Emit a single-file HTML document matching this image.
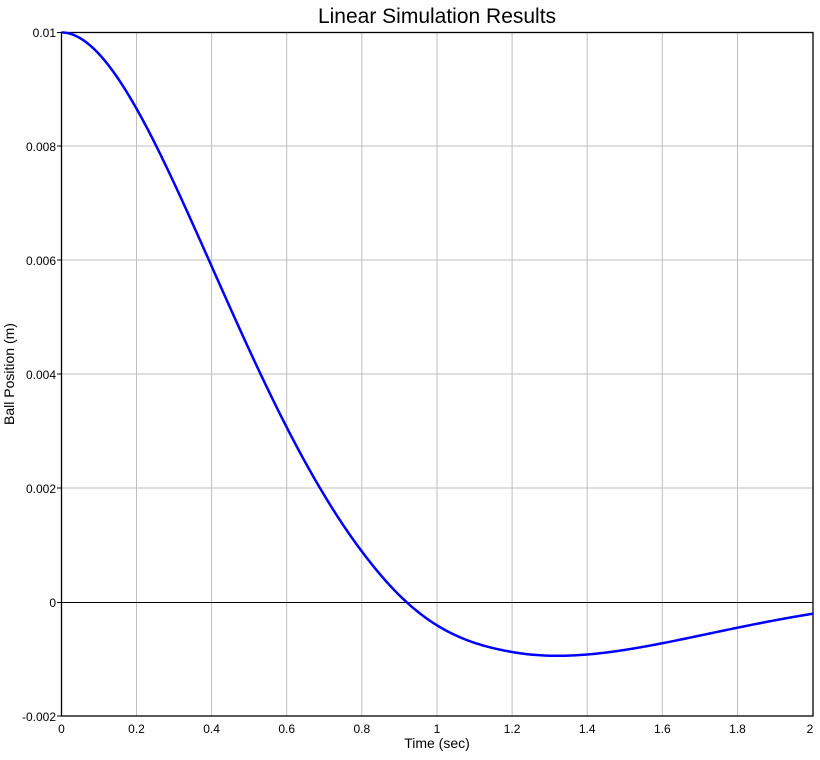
<!DOCTYPE html>
<html><head><meta charset="utf-8"><style>
html,body{margin:0;padding:0;background:#fff;}
text{font-family:"Liberation Sans",Arial,sans-serif;}
</style></head><body>
<svg id="s" width="820" height="755" xmlns="http://www.w3.org/2000/svg">
<rect width="820" height="755" fill="#fff"/>
<text x="437" y="23" font-size="21" text-anchor="middle">Linear Simulation Results</text>
<g stroke="#bfbfbf" stroke-width="1">
<line x1="136.5" y1="32" x2="136.5" y2="716"/>
<line x1="211.6" y1="32" x2="211.6" y2="716"/>
<line x1="286.7" y1="32" x2="286.7" y2="716"/>
<line x1="361.8" y1="32" x2="361.8" y2="716"/>
<line x1="437" y1="32" x2="437" y2="716"/>
<line x1="512.1" y1="32" x2="512.1" y2="716"/>
<line x1="587.2" y1="32" x2="587.2" y2="716"/>
<line x1="662.3" y1="32" x2="662.3" y2="716"/>
<line x1="737.5" y1="32" x2="737.5" y2="716"/>
<line x1="61.5" y1="146" x2="813" y2="146"/>
<line x1="61.5" y1="260" x2="813" y2="260"/>
<line x1="61.5" y1="374" x2="813" y2="374"/>
<line x1="61.5" y1="488" x2="813" y2="488"/>
</g>
<line x1="61.5" y1="602.5" x2="813" y2="602.5" stroke="#000"/>
<rect x="61.5" y="32.5" width="751.5" height="683.5" fill="none" stroke="#000" stroke-width="1.3"/>
<g stroke="#000"><line x1="57" y1="32.5" x2="61.5" y2="32.5"/><line x1="57" y1="146" x2="61.5" y2="146"/><line x1="57" y1="260" x2="61.5" y2="260"/><line x1="57" y1="374" x2="61.5" y2="374"/><line x1="57" y1="488" x2="61.5" y2="488"/><line x1="57" y1="602.5" x2="61.5" y2="602.5"/><line x1="57" y1="716" x2="61.5" y2="716"/></g>
<g font-size="12" text-anchor="end">
<text x="56" y="37">0.01</text><text x="56" y="151">0.008</text><text x="56" y="265">0.006</text>
<text x="56" y="379">0.004</text><text x="56" y="493">0.002</text><text x="56" y="607">0</text><text x="56" y="721">-0.002</text>
</g>
<g font-size="12" text-anchor="middle">
<text x="61.5" y="733">0</text><text x="136.5" y="733">0.2</text><text x="211.6" y="733">0.4</text><text x="286.7" y="733">0.6</text>
<text x="361.8" y="733">0.8</text><text x="437" y="733">1</text><text x="512.1" y="733">1.2</text><text x="587.2" y="733">1.4</text>
<text x="662.3" y="733">1.6</text><text x="737.5" y="733">1.8</text><text x="810" y="733">2</text>
</g>
<text x="437" y="748" font-size="14" text-anchor="middle">Time (sec)</text>
<text x="0" y="0" font-size="14" text-anchor="middle" transform="translate(14,374) rotate(-90)">Ball Position (m)</text>
<path id="c" fill="none" stroke="#0000ff" stroke-width="2.5"/>
</svg>
<script>
var w=2.38,a=1.69,B=a/w;
function f(t){var v=0.01*Math.exp(-a*t)*(Math.cos(w*t)+B*Math.sin(w*t));
var s=Math.min(1,Math.max(0,(t-0.8)/0.4));s=s*s*(3-2*s);return v*(1-0.13*s);}
function X(t){return 61.5+t*375.75;}function Y(v){return 602.5-v*57000;}
var d="";for(var i=0;i<=400;i++){var t=i*0.005;d+=(i?"L":"M")+X(t).toFixed(2)+","+Y(f(t)).toFixed(2);}
document.getElementById("c").setAttribute("d",d);
</script>
</body></html>
